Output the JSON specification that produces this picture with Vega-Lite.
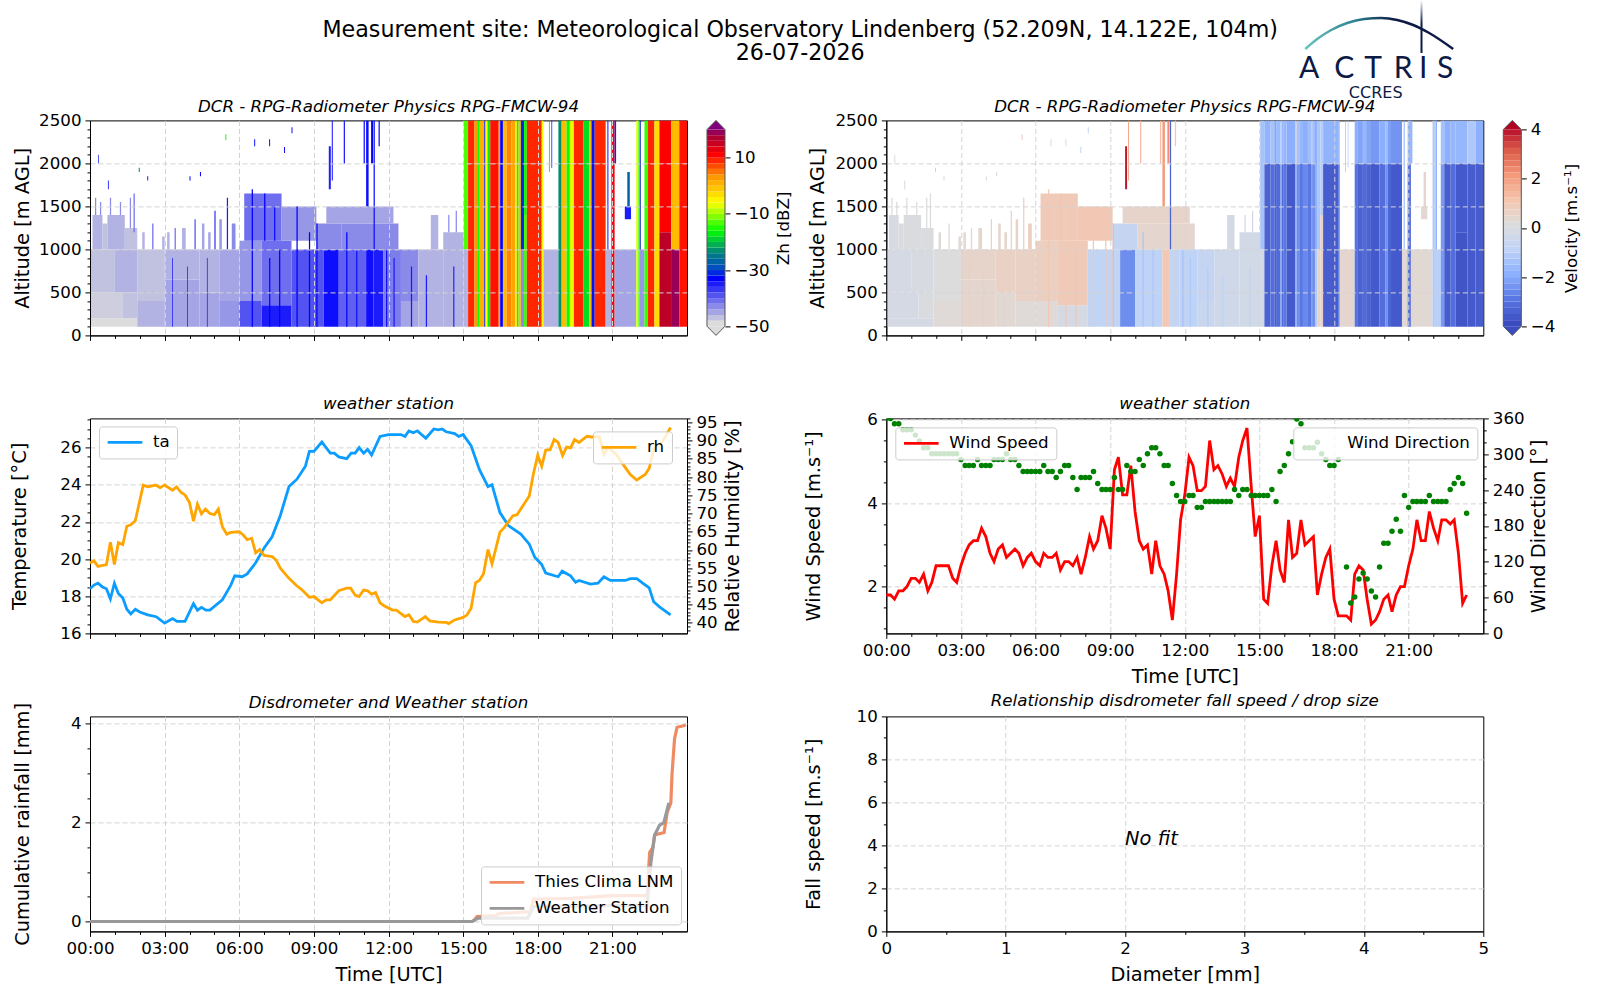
{
"$schema":"https://vega.github.io/schema/vega-lite/v6.json",
"padding":{"left":8,"top":0,"right":40,"bottom":40},
"background":"white",
"bounds":"flush",
"spacing":20.4,
"config":{
"font":"DejaVu Sans",
"view":{"stroke":"#000","strokeWidth":1},
"title":{"font":"DejaVu Sans","fontSize":16.67,"fontStyle":"italic","fontWeight":"normal","color":"#000","anchor":"middle"},
"axis":{"grid":true,"gridColor":"#d3d3d3","gridDash":[5,3],"gridWidth":1,"domainColor":"#000","tickColor":"#000","labelColor":"#000","titleColor":"#000","labelFont":"DejaVu Sans","titleFont":"DejaVu Sans","labelFontSize":16.67,"titleFontSize":19.4,"titleFontWeight":"normal","labelOverlap":false,"labelFlush":false,"labelBound":false,"labelPadding":4,"tickSize":5,"titlePadding":8},
"legend":{"title":null,"labelFont":"DejaVu Sans","labelFontSize":16.67,"labelColor":"#000","fillColor":"rgba(255,255,255,0.8)","strokeColor":"#cccccc","cornerRadius":3,"padding":7,"labelOffset":9,"symbolType":"stroke","symbolSize":1200,"symbolStrokeWidth":2.8,"rowPadding":8,"clipHeight":18}
},
"datasets":{
"rad":[
{"a":0,"b":1.9,"c":100,"d":200,"z":-50,"w":-0.3},{"a":0,"b":1.3,"c":200,"d":500,"z":-49,"w":-0.3},{"a":1.3,"b":1.9,"c":200,"d":500,"z":-48,"w":-0.1},{"a":0,"b":1,"c":500,"d":1000,"z":-48,"w":-0.3},{"a":1,"b":1.9,"c":500,"d":1000,"z":-47,"w":-0.2},{"a":0.1,"b":0.5,"c":1000,"d":1400,"z":-47,"w":-0.2},{"a":0.5,"b":0.7,"c":1000,"d":1300,"z":-48,"w":-0.1},{"a":0.7,"b":1.4,"c":1000,"d":1400,"z":-47,"w":-0.1},{"a":1.4,"b":1.9,"c":1000,"d":1250,"z":-48,"w":-0.1},
{"a":0.2,"b":0.25,"c":1400,"d":1600,"z":-44,"w":0},{"a":0.4,"b":0.45,"c":1400,"d":1550,"z":-44,"w":0.1},{"a":0.8,"b":0.85,"c":1400,"d":1600,"z":-44,"w":0},{"a":1.2,"b":1.25,"c":1400,"d":1550,"z":-44,"w":0.1},{"a":1.6,"b":1.65,"c":1250,"d":1600,"z":-44,"w":0},{"a":1.75,"b":1.8,"c":1200,"d":1650,"z":-42,"w":0.1},{"a":2.5,"b":2.55,"c":1000,"d":1300,"z":-42,"w":0.2},{"a":3.4,"b":3.45,"c":1000,"d":1250,"z":-42,"w":0.3},{"a":4.2,"b":4.25,"c":1000,"d":1350,"z":-40,"w":0.4},{"a":5,"b":5.05,"c":1000,"d":1450,"z":-38,"w":0.5},{"a":5.5,"b":5.55,"c":1000,"d":1600,"z":-36,"w":0.6},
{"a":2.1,"b":2.2,"c":1000,"d":1200,"z":-47,"w":0.1},{"a":2.9,"b":3,"c":1000,"d":1150,"z":-47,"w":0.2},{"a":3.1,"b":3.2,"c":1000,"d":1200,"z":-47,"w":0.2},{"a":3.7,"b":3.85,"c":1000,"d":1250,"z":-47,"w":0.3},{"a":4.5,"b":4.6,"c":1000,"d":1300,"z":-46,"w":0.4},{"a":4.75,"b":4.85,"c":1000,"d":1200,"z":-46,"w":0.4},{"a":5.2,"b":5.3,"c":1000,"d":1350,"z":-45,"w":0.5},{"a":5.7,"b":5.85,"c":1000,"d":1300,"z":-44,"w":0.6},
{"a":0.32,"b":0.36,"c":2000,"d":2100,"z":-40,"w":0.1},{"a":0.72,"b":0.76,"c":1700,"d":1800,"z":-38,"w":0.2},{"a":1.96,"b":2,"c":1900,"d":1950,"z":-25,"w":-1},{"a":2.3,"b":2.34,"c":1800,"d":1850,"z":-36,"w":0.3},{"a":4,"b":4.04,"c":1800,"d":1850,"z":-34,"w":0.3},{"a":4.42,"b":4.46,"c":1850,"d":1900,"z":-34,"w":0.3},{"a":5.44,"b":5.48,"c":2270,"d":2340,"z":-16,"w":0.6},{"a":6.6,"b":6.64,"c":2200,"d":2280,"z":-35,"w":0.3},{"a":7.2,"b":7.24,"c":2200,"d":2280,"z":-35,"w":0.3},{"a":7.8,"b":7.84,"c":2120,"d":2190,"z":-35,"w":-1},{"a":8.1,"b":8.14,"c":2350,"d":2420,"z":-35,"w":-1},
{"a":1.9,"b":3,"c":100,"d":400,"z":-47,"w":0.1},{"a":1.9,"b":3,"c":400,"d":1000,"z":-48,"w":0},{"a":3,"b":4.4,"c":100,"d":650,"z":-46,"w":0.3},{"a":3,"b":4.4,"c":650,"d":1000,"z":-47,"w":0.4},{"a":4.4,"b":5.2,"c":100,"d":500,"z":-46,"w":0.2},{"a":4.4,"b":5.2,"c":500,"d":1000,"z":-47,"w":0.5},{"a":5.2,"b":6,"c":100,"d":400,"z":-45,"w":0.1},{"a":5.2,"b":6,"c":400,"d":1000,"z":-46,"w":0.5},{"a":6,"b":6.9,"c":100,"d":400,"z":-40,"w":0.1},{"a":6,"b":6.9,"c":400,"d":1100,"z":-45,"w":0.6},{"a":6.2,"b":7.7,"c":1100,"d":1650,"z":-42,"w":0.8},{"a":6.9,"b":8.1,"c":100,"d":350,"z":-36,"w":-0.3},{"a":6.9,"b":8.1,"c":350,"d":1100,"z":-42,"w":0.8},{"a":7.7,"b":9.1,"c":1100,"d":1500,"z":-45,"w":0.9},{"a":8.1,"b":9.4,"c":100,"d":1000,"z":-40,"w":-0.9},{"a":9.4,"b":10,"c":100,"d":1000,"z":-35,"w":-2.6},{"a":10,"b":11.1,"c":100,"d":1000,"z":-41,"w":-1},{"a":11.1,"b":11.4,"c":100,"d":1000,"z":-35,"w":0.9},{"a":11.4,"b":11.8,"c":100,"d":1000,"z":-36,"w":-0.8},{"a":9.1,"b":10.1,"c":1000,"d":1300,"z":-44,"w":-0.8},{"a":10.1,"b":12.4,"c":1000,"d":1300,"z":-44,"w":0.3},{"a":9.5,"b":12.2,"c":1300,"d":1500,"z":-46,"w":0.4},{"a":11.8,"b":12.5,"c":100,"d":1000,"z":-43,"w":-1},{"a":12.5,"b":13.2,"c":100,"d":400,"z":-46,"w":-0.7},{"a":12.5,"b":13.2,"c":400,"d":1000,"z":-44,"w":-0.8},{"a":13.2,"b":14.2,"c":100,"d":1000,"z":-47,"w":-0.5},{"a":14.2,"b":15.03,"c":100,"d":1200,"z":-47,"w":-0.4},{"a":13.7,"b":14,"c":1000,"d":1400,"z":-47,"w":-0.3},{"a":14.4,"b":14.45,"c":1200,"d":1400,"z":-44,"w":-0.3},{"a":14.7,"b":14.75,"c":1200,"d":1450,"z":-44,"w":-0.3},
{"a":3.3,"b":3.33,"c":100,"d":900,"z":-36,"w":0.5},{"a":3.9,"b":3.93,"c":100,"d":800,"z":-36,"w":0.6},{"a":4.7,"b":4.73,"c":100,"d":900,"z":-36,"w":0.6},{"a":6.5,"b":6.55,"c":100,"d":1700,"z":-34,"w":0.9},{"a":7,"b":7.05,"c":1100,"d":1650,"z":-34,"w":1},{"a":7.2,"b":7.25,"c":100,"d":900,"z":-34,"w":0.9},{"a":7.4,"b":7.45,"c":1100,"d":1500,"z":-35,"w":1},{"a":7.6,"b":7.65,"c":100,"d":1000,"z":-34,"w":1},{"a":8.3,"b":8.35,"c":100,"d":1500,"z":-34,"w":1},{"a":8.8,"b":8.85,"c":100,"d":1200,"z":-34,"w":0.9},{"a":9.1,"b":9.15,"c":100,"d":1300,"z":-34,"w":1.3},{"a":10.3,"b":10.35,"c":100,"d":1200,"z":-34,"w":-1.4},{"a":10.7,"b":10.75,"c":100,"d":1000,"z":-35,"w":-1.4},{"a":11.9,"b":11.95,"c":100,"d":1000,"z":-35,"w":-1.5},{"a":12.2,"b":12.25,"c":100,"d":900,"z":-36,"w":-1.3},{"a":12.9,"b":12.95,"c":100,"d":800,"z":-36,"w":-1.2},{"a":13.5,"b":13.55,"c":100,"d":700,"z":-36,"w":-1},{"a":14.6,"b":14.65,"c":100,"d":800,"z":-37,"w":-0.9},
{"a":9.6,"b":9.68,"c":1700,"d":2200,"z":-36,"w":3.8},{"a":9.72,"b":9.76,"c":1800,"d":2500,"z":-35,"w":1.8},{"a":10.2,"b":10.25,"c":2000,"d":2500,"z":-36,"w":1.2},{"a":11,"b":11.05,"c":2000,"d":2500,"z":-35,"w":1.2},{"a":11.1,"b":11.2,"c":1500,"d":2500,"z":-35,"w":2},{"a":11.3,"b":11.38,"c":2000,"d":2500,"z":-34,"w":2.2},{"a":11.4,"b":11.45,"c":1000,"d":2500,"z":-35,"w":-3.5},{"a":11.6,"b":11.65,"c":2200,"d":2500,"z":-35,"w":1},
{"a":15.03,"b":15.2,"c":1000,"d":2500,"z":-14,"w":-1.5},{"a":15.03,"b":15.2,"c":100,"d":1000,"z":-47,"w":-0.4},
{"a":15.2,"b":15.45,"c":100,"d":2000,"z":8,"w":-3.5},{"a":15.2,"b":15.45,"c":2000,"d":2500,"z":8,"w":-1.9},
{"a":15.45,"b":15.6,"c":100,"d":2000,"z":2,"w":-3.2},{"a":15.45,"b":15.6,"c":2000,"d":2500,"z":2,"w":-1.5},
{"a":15.6,"b":15.67,"c":100,"d":2000,"z":-17,"w":-3.6},{"a":15.6,"b":15.67,"c":2000,"d":2500,"z":-17,"w":-2.2},
{"a":15.67,"b":15.85,"c":100,"d":2000,"z":0,"w":-3.3},{"a":15.67,"b":15.85,"c":2000,"d":2500,"z":0,"w":-1.7},
{"a":15.85,"b":15.9,"c":100,"d":2000,"z":-33,"w":-2.2},{"a":15.85,"b":15.9,"c":2000,"d":2500,"z":-33,"w":-1.2},
{"a":15.9,"b":15.98,"c":100,"d":2000,"z":-7,"w":-3.3},{"a":15.9,"b":15.98,"c":2000,"d":2500,"z":-7,"w":-1.8},
{"a":15.98,"b":16.09,"c":100,"d":2000,"z":-18,"w":-3},{"a":15.98,"b":16.09,"c":2000,"d":2500,"z":-18,"w":-1.8},
{"a":16.09,"b":16.43,"c":100,"d":2000,"z":9,"w":-3.7},{"a":16.09,"b":16.43,"c":2000,"d":2500,"z":9,"w":-2},
{"a":16.43,"b":16.49,"c":100,"d":2000,"z":1,"w":-2},{"a":16.43,"b":16.49,"c":2000,"d":2500,"z":1,"w":1},
{"a":16.49,"b":16.6,"c":100,"d":2000,"z":-34,"w":-2.6},{"a":16.49,"b":16.6,"c":2000,"d":2500,"z":-34,"w":-1.5},
{"a":16.6,"b":16.75,"c":100,"d":2000,"z":-1,"w":-3},{"a":16.6,"b":16.75,"c":2000,"d":2500,"z":-1,"w":-1.8},
{"a":16.75,"b":16.95,"c":100,"d":2000,"z":3,"w":-2.7},{"a":16.75,"b":16.95,"c":2000,"d":2500,"z":3,"w":-2},
{"a":16.95,"b":17.1,"c":100,"d":2000,"z":1,"w":-3},{"a":16.95,"b":17.1,"c":2000,"d":2500,"z":1,"w":-1.6},
{"a":17.1,"b":17.16,"c":100,"d":2000,"z":-5,"w":-2.4},{"a":17.1,"b":17.16,"c":2000,"d":2500,"z":-5,"w":-1.3},
{"a":17.16,"b":17.23,"c":100,"d":2000,"z":-17,"w":-2.9},{"a":17.16,"b":17.23,"c":2000,"d":2500,"z":-17,"w":-1.8},
{"a":17.23,"b":17.32,"c":1000,"d":2500,"z":-1,"w":-2},{"a":17.23,"b":17.32,"c":100,"d":1000,"z":-1,"w":-1.2},
{"a":17.32,"b":17.45,"c":1000,"d":2500,"z":-32,"w":-1.4},{"a":17.32,"b":17.45,"c":100,"d":1000,"z":-44,"w":0.3},
{"a":17.45,"b":17.56,"c":1400,"d":2500,"z":-17,"w":-1.2},{"a":17.45,"b":17.56,"c":100,"d":1400,"z":-15,"w":0.5},
{"a":17.56,"b":18.16,"c":100,"d":2000,"z":8,"w":-3.6},{"a":17.56,"b":18.16,"c":2000,"d":2500,"z":8,"w":-1.9},
{"a":18.16,"b":18.23,"c":100,"d":2000,"z":-7,"w":-2.8},{"a":18.16,"b":18.23,"c":2000,"d":2500,"z":-7,"w":-1.7},
{"a":18.45,"b":18.48,"c":1900,"d":2500,"z":-20,"w":-1.5},{"a":18.55,"b":18.58,"c":1950,"d":2500,"z":-33,"w":-1.2},{"a":18.23,"b":18.83,"c":100,"d":1000,"z":-47,"w":0.3},
{"a":18.83,"b":18.96,"c":100,"d":2000,"z":-24,"w":-3.1},{"a":18.83,"b":18.96,"c":2000,"d":2500,"z":-24,"w":-2},
{"a":18.96,"b":19.16,"c":100,"d":2000,"z":-1,"w":-3.5},{"a":18.96,"b":19.16,"c":2000,"d":2500,"z":-1,"w":-2.2},
{"a":19.16,"b":19.29,"c":100,"d":2000,"z":-17,"w":-3.3},{"a":19.16,"b":19.29,"c":2000,"d":2500,"z":-17,"w":-1.8},
{"a":19.29,"b":19.45,"c":100,"d":2000,"z":-8,"w":-3.5},{"a":19.29,"b":19.45,"c":2000,"d":2500,"z":-8,"w":-2.2},
{"a":19.45,"b":19.83,"c":100,"d":2000,"z":8,"w":-3.7},{"a":19.45,"b":19.83,"c":2000,"d":2500,"z":8,"w":-2.4},
{"a":19.83,"b":20.07,"c":100,"d":2000,"z":-19,"w":-3.2},{"a":19.83,"b":20.07,"c":2000,"d":2500,"z":-19,"w":-2},
{"a":20.07,"b":20.16,"c":100,"d":2000,"z":0,"w":-2.6},{"a":20.07,"b":20.16,"c":2000,"d":2500,"z":0,"w":-1.7},
{"a":20.16,"b":20.29,"c":100,"d":2000,"z":-33,"w":-3.4},{"a":20.16,"b":20.29,"c":2000,"d":2500,"z":-33,"w":-2.3},
{"a":20.29,"b":20.73,"c":100,"d":2000,"z":8,"w":-3.7},{"a":20.29,"b":20.73,"c":2000,"d":2500,"z":8,"w":-2.5},
{"a":20.73,"b":20.96,"c":100,"d":1000,"z":-47,"w":0.2},{"a":20.8,"b":20.84,"c":1000,"d":2500,"z":-35,"w":-2},
{"a":20.96,"b":21.09,"c":100,"d":2000,"z":10,"w":-3.2},{"a":20.96,"b":21.09,"c":2000,"d":2500,"z":10,"w":-2},
{"a":21.09,"b":21.15,"c":2000,"d":2500,"z":-36,"w":-1.8},{"a":21.09,"b":21.96,"c":100,"d":1000,"z":-46,"w":0.2},
{"a":21.5,"b":21.75,"c":1350,"d":1500,"z":-36,"w":0.2},{"a":21.6,"b":21.7,"c":1500,"d":1900,"z":-28,"w":0.3},
{"a":21.96,"b":22.05,"c":100,"d":2500,"z":-8,"w":-1.3},{"a":22.05,"b":22.09,"c":100,"d":2500,"z":-17,"w":-1.5},
{"a":22.09,"b":22.29,"c":100,"d":1000,"z":-45,"w":-1.1},{"a":22.1,"b":22.14,"c":1000,"d":2500,"z":-33,"w":-2},
{"a":22.29,"b":22.43,"c":100,"d":2000,"z":-15,"w":-2.4},{"a":22.29,"b":22.43,"c":2000,"d":2500,"z":-15,"w":-1.5},
{"a":22.43,"b":22.69,"c":100,"d":2000,"z":8,"w":-3.6},{"a":22.43,"b":22.69,"c":2000,"d":2500,"z":8,"w":-2},
{"a":22.69,"b":22.89,"c":100,"d":2000,"z":-4,"w":-3.2},{"a":22.69,"b":22.89,"c":2000,"d":2500,"z":-4,"w":-1.8},
{"a":22.89,"b":23.36,"c":1200,"d":2000,"z":10,"w":-3.7},{"a":22.89,"b":23.36,"c":100,"d":1200,"z":15,"w":-3.8},{"a":22.89,"b":23.36,"c":2000,"d":2500,"z":10,"w":-1.8},
{"a":23.36,"b":23.69,"c":1000,"d":2000,"z":-1,"w":-3.6},{"a":23.36,"b":23.69,"c":100,"d":1000,"z":18,"w":-3.7},{"a":23.36,"b":23.69,"c":2000,"d":2500,"z":-1,"w":-1.3},
{"a":23.69,"b":24,"c":100,"d":2000,"z":9,"w":-3.6},{"a":23.69,"b":24,"c":2000,"d":2500,"z":9,"w":-2}
],
"zbar":[{"v0":-50,"v1":-48},{"v0":-48,"v1":-46},{"v0":-46,"v1":-44},{"v0":-44,"v1":-42},{"v0":-42,"v1":-40},{"v0":-40,"v1":-38},{"v0":-38,"v1":-36},{"v0":-36,"v1":-34},{"v0":-34,"v1":-32},{"v0":-32,"v1":-30},{"v0":-30,"v1":-28},{"v0":-28,"v1":-26},{"v0":-26,"v1":-24},{"v0":-24,"v1":-22},{"v0":-22,"v1":-20},{"v0":-20,"v1":-18},{"v0":-18,"v1":-16},{"v0":-16,"v1":-14},{"v0":-14,"v1":-12},{"v0":-12,"v1":-10},{"v0":-10,"v1":-8},{"v0":-8,"v1":-6},{"v0":-6,"v1":-4},{"v0":-4,"v1":-2},{"v0":-2,"v1":0},{"v0":0,"v1":2},{"v0":2,"v1":4},{"v0":4,"v1":6},{"v0":6,"v1":8},{"v0":8,"v1":10},{"v0":10,"v1":12},{"v0":12,"v1":14},{"v0":14,"v1":16},{"v0":16,"v1":18},{"v0":18,"v1":20}],
"wbar":[{"v0":-4,"v1":-3.75},{"v0":-3.75,"v1":-3.5},{"v0":-3.5,"v1":-3.25},{"v0":-3.25,"v1":-3},{"v0":-3,"v1":-2.75},{"v0":-2.75,"v1":-2.5},{"v0":-2.5,"v1":-2.25},{"v0":-2.25,"v1":-2},{"v0":-2,"v1":-1.75},{"v0":-1.75,"v1":-1.5},{"v0":-1.5,"v1":-1.25},{"v0":-1.25,"v1":-1},{"v0":-1,"v1":-0.75},{"v0":-0.75,"v1":-0.5},{"v0":-0.5,"v1":-0.25},{"v0":-0.25,"v1":0},{"v0":0,"v1":0.25},{"v0":0.25,"v1":0.5},{"v0":0.5,"v1":0.75},{"v0":0.75,"v1":1},{"v0":1,"v1":1.25},{"v0":1.25,"v1":1.5},{"v0":1.5,"v1":1.75},{"v0":1.75,"v1":2},{"v0":2,"v1":2.25},{"v0":2.25,"v1":2.5},{"v0":2.5,"v1":2.75},{"v0":2.75,"v1":3},{"v0":3,"v1":3.25},{"v0":3.25,"v1":3.5},{"v0":3.5,"v1":3.75},{"v0":3.75,"v1":4}],
"zout":[{"o":0,"x":0,"y":-50},{"o":1,"x":0.5,"y":-53.27},{"o":2,"x":1,"y":-50},{"o":3,"x":1,"y":20},{"o":4,"x":0.5,"y":23.27},{"o":5,"x":0,"y":20},{"o":6,"x":0,"y":-50}],
"wout":[{"o":0,"x":0,"y":-4},{"o":1,"x":0.5,"y":-4.37},{"o":2,"x":1,"y":-4},{"o":3,"x":1,"y":4},{"o":4,"x":0.5,"y":4.37},{"o":5,"x":0,"y":4},{"o":6,"x":0,"y":-4}],
"ta":[{"h":0,"v":18.4},{"h":0.16,"v":18.6},{"h":0.32,"v":18.7},{"h":0.5,"v":18.5},{"h":0.66,"v":18.4},{"h":0.82,"v":17.85},{"h":0.98,"v":18.7},{"h":1.14,"v":18.15},{"h":1.32,"v":17.9},{"h":1.48,"v":17.3},{"h":1.64,"v":17.05},{"h":1.82,"v":17.3},{"h":2,"v":17.15},{"h":2.32,"v":17},{"h":2.66,"v":16.9},{"h":3,"v":16.55},{"h":3.32,"v":16.8},{"h":3.5,"v":16.65},{"h":3.82,"v":16.65},{"h":4.16,"v":17.6},{"h":4.32,"v":17.25},{"h":4.48,"v":17.4},{"h":4.66,"v":17.25},{"h":4.82,"v":17.25},{"h":5.32,"v":17.8},{"h":5.66,"v":18.6},{"h":5.82,"v":19.1},{"h":6.12,"v":19.05},{"h":6.32,"v":19.2},{"h":6.66,"v":19.8},{"h":7,"v":20.6},{"h":7.32,"v":21.2},{"h":7.64,"v":22.3},{"h":8,"v":23.9},{"h":8.32,"v":24.3},{"h":8.66,"v":25},{"h":8.82,"v":25.8},{"h":9,"v":25.8},{"h":9.32,"v":26.3},{"h":9.66,"v":25.7},{"h":9.82,"v":25.7},{"h":10,"v":25.5},{"h":10.32,"v":25.4},{"h":10.5,"v":25.7},{"h":10.66,"v":25.7},{"h":10.82,"v":26},{"h":11,"v":25.7},{"h":11.16,"v":25.9},{"h":11.32,"v":25.6},{"h":11.66,"v":26.6},{"h":12,"v":26.7},{"h":12.5,"v":26.7},{"h":12.66,"v":26.6},{"h":12.82,"v":26.9},{"h":13,"v":26.8},{"h":13.16,"v":26.9},{"h":13.5,"v":26.5},{"h":13.82,"v":27},{"h":14,"v":26.95},{"h":14.16,"v":27},{"h":14.32,"v":26.85},{"h":14.66,"v":26.75},{"h":14.82,"v":26.6},{"h":15,"v":26.7},{"h":15.32,"v":26.1},{"h":15.66,"v":24.8},{"h":16,"v":23.9},{"h":16.16,"v":24},{"h":16.48,"v":22.5},{"h":16.82,"v":21.8},{"h":17.32,"v":21.35},{"h":17.66,"v":20.8},{"h":17.88,"v":20.1},{"h":18.16,"v":19.7},{"h":18.32,"v":19.25},{"h":18.82,"v":19.05},{"h":18.98,"v":19.35},{"h":19.32,"v":19.1},{"h":19.52,"v":18.75},{"h":19.66,"v":18.85},{"h":20.12,"v":18.65},{"h":20.42,"v":18.7},{"h":20.66,"v":19.05},{"h":20.92,"v":18.85},{"h":21.52,"v":18.85},{"h":21.72,"v":18.95},{"h":21.98,"v":18.95},{"h":22.22,"v":18.7},{"h":22.48,"v":18.45},{"h":22.66,"v":17.7},{"h":22.92,"v":17.4},{"h":23.34,"v":17}],
"rh":[{"h":0,"v":56.4},{"h":0.16,"v":57},{"h":0.32,"v":55.5},{"h":0.66,"v":56},{"h":0.82,"v":62.1},{"h":0.98,"v":56},{"h":1.14,"v":62},{"h":1.32,"v":61.5},{"h":1.48,"v":66.5},{"h":1.64,"v":66.9},{"h":1.82,"v":68},{"h":2.14,"v":77.8},{"h":2.32,"v":77.3},{"h":2.64,"v":77.8},{"h":2.82,"v":77.1},{"h":3,"v":77.8},{"h":3.32,"v":76.4},{"h":3.48,"v":77.3},{"h":3.66,"v":75.8},{"h":3.82,"v":75.1},{"h":4,"v":73},{"h":4.16,"v":67.9},{"h":4.32,"v":72.6},{"h":4.48,"v":69.9},{"h":4.64,"v":71.2},{"h":4.82,"v":70},{"h":5,"v":69.7},{"h":5.16,"v":71.2},{"h":5.32,"v":66.4},{"h":5.5,"v":64.3},{"h":5.66,"v":64.8},{"h":6,"v":65},{"h":6.16,"v":64.1},{"h":6.32,"v":62.8},{"h":6.5,"v":63.2},{"h":6.66,"v":59.2},{"h":6.82,"v":60.1},{"h":7,"v":58.5},{"h":7.32,"v":58.2},{"h":7.48,"v":57.2},{"h":7.66,"v":54.9},{"h":8,"v":52.2},{"h":8.32,"v":50.1},{"h":8.5,"v":49.2},{"h":8.82,"v":47},{"h":9,"v":47.2},{"h":9.32,"v":45.5},{"h":9.5,"v":46.3},{"h":9.66,"v":46.3},{"h":10,"v":48.8},{"h":10.32,"v":49.5},{"h":10.48,"v":49.5},{"h":10.66,"v":47.6},{"h":10.82,"v":47.2},{"h":11,"v":49},{"h":11.16,"v":48.8},{"h":11.32,"v":47.9},{"h":11.48,"v":48.3},{"h":11.66,"v":45.5},{"h":11.82,"v":44.7},{"h":12.16,"v":43.5},{"h":12.32,"v":43.5},{"h":12.66,"v":41.7},{"h":12.82,"v":42.2},{"h":13,"v":40.4},{"h":13.16,"v":40.2},{"h":13.48,"v":41.7},{"h":13.66,"v":40.5},{"h":14,"v":40.2},{"h":14.32,"v":40.1},{"h":14.42,"v":39.8},{"h":14.66,"v":40.8},{"h":15,"v":41.5},{"h":15.16,"v":42.2},{"h":15.32,"v":44},{"h":15.5,"v":51},{"h":15.66,"v":51.7},{"h":15.82,"v":53.5},{"h":16,"v":60.1},{"h":16.16,"v":56.2},{"h":16.48,"v":64.9},{"h":16.66,"v":66.2},{"h":17,"v":69.4},{"h":17.16,"v":69.6},{"h":17.66,"v":74.8},{"h":17.82,"v":80.7},{"h":18,"v":86},{"h":18.16,"v":83},{"h":18.32,"v":87.4},{"h":18.5,"v":87.5},{"h":18.66,"v":90.3},{"h":18.82,"v":89.5},{"h":19,"v":85.9},{"h":19.16,"v":88.2},{"h":19.32,"v":88},{"h":19.48,"v":90.3},{"h":19.66,"v":89.5},{"h":19.98,"v":91.2},{"h":20.16,"v":91},{"h":20.48,"v":91.1},{"h":20.66,"v":86.2},{"h":20.82,"v":88.2},{"h":21.16,"v":86.2},{"h":21.48,"v":83},{"h":21.72,"v":80.7},{"h":21.98,"v":79.2},{"h":22.32,"v":80.7},{"h":22.48,"v":82.4},{"h":22.66,"v":87.5},{"h":23.02,"v":89.8},{"h":23.34,"v":93.6}],
"wind":[{"h":0,"s":1.8,"d":360},{"h":0.17,"s":1.8,"d":360},{"h":0.33,"s":1.7,"d":351},{"h":0.5,"s":1.9,"d":351},{"h":0.67,"s":1.9,"d":341},{"h":0.83,"s":2,"d":341},{"h":1,"s":2.2,"d":341},{"h":1.17,"s":2.2,"d":332},{"h":1.33,"s":2.1,"d":322},{"h":1.5,"s":2.3,"d":311},{"h":1.67,"s":1.9,"d":311},{"h":1.83,"s":2.1,"d":301},{"h":2,"s":2.5,"d":301},{"h":2.17,"s":2.5,"d":301},{"h":2.33,"s":2.5,"d":301},{"h":2.5,"s":2.5,"d":301},{"h":2.67,"s":2.2,"d":301},{"h":2.83,"s":2.1,"d":301},{"h":3,"s":2.5,"d":291},{"h":3.17,"s":2.8,"d":281},{"h":3.33,"s":3,"d":281},{"h":3.5,"s":3.1,"d":281},{"h":3.67,"s":3.1,"d":291},{"h":3.83,"s":3.4,"d":281},{"h":4,"s":3.2,"d":281},{"h":4.17,"s":2.8,"d":281},{"h":4.33,"s":2.6,"d":291},{"h":4.5,"s":2.9,"d":291},{"h":4.67,"s":3,"d":291},{"h":4.83,"s":2.7,"d":301},{"h":5,"s":2.8,"d":291},{"h":5.17,"s":2.9,"d":291},{"h":5.33,"s":2.8,"d":281},{"h":5.5,"s":2.5,"d":271},{"h":5.67,"s":2.7,"d":271},{"h":5.83,"s":2.8,"d":271},{"h":6,"s":2.6,"d":271},{"h":6.17,"s":2.5,"d":271},{"h":6.33,"s":2.8,"d":281},{"h":6.5,"s":2.7,"d":271},{"h":6.67,"s":2.7,"d":271},{"h":6.83,"s":2.8,"d":261},{"h":7,"s":2.4,"d":271},{"h":7.17,"s":2.6,"d":281},{"h":7.33,"s":2.6,"d":281},{"h":7.5,"s":2.5,"d":261},{"h":7.67,"s":2.7,"d":241},{"h":7.83,"s":2.3,"d":261},{"h":8,"s":2.7,"d":261},{"h":8.17,"s":3.2,"d":261},{"h":8.33,"s":2.9,"d":271},{"h":8.5,"s":3.1,"d":251},{"h":8.67,"s":3.7,"d":241},{"h":8.83,"s":3.4,"d":241},{"h":9,"s":2.9,"d":241},{"h":9.17,"s":4.8,"d":261},{"h":9.33,"s":5.1,"d":241},{"h":9.5,"s":4.2,"d":241},{"h":9.67,"s":4.2,"d":281},{"h":9.83,"s":4.9,"d":271},{"h":10,"s":3.8,"d":271},{"h":10.17,"s":3.1,"d":291},{"h":10.33,"s":2.9,"d":281},{"h":10.5,"s":3,"d":301},{"h":10.67,"s":2.3,"d":311},{"h":10.83,"s":3.1,"d":311},{"h":11,"s":2.5,"d":301},{"h":11.17,"s":2.3,"d":281},{"h":11.33,"s":1.9,"d":281},{"h":11.5,"s":1.2,"d":251},{"h":11.67,"s":2.3,"d":231},{"h":11.83,"s":3.6,"d":221},{"h":12,"s":4.2,"d":221},{"h":12.17,"s":5.1,"d":231},{"h":12.33,"s":4.9,"d":231},{"h":12.5,"s":4.3,"d":211},{"h":12.67,"s":4.3,"d":211},{"h":12.83,"s":4.4,"d":221},{"h":13,"s":5.5,"d":221},{"h":13.17,"s":4.8,"d":221},{"h":13.33,"s":4.9,"d":221},{"h":13.5,"s":4.7,"d":221},{"h":13.67,"s":4.4,"d":221},{"h":13.83,"s":4.6,"d":221},{"h":14,"s":4.4,"d":241},{"h":14.17,"s":5.1,"d":231},{"h":14.33,"s":5.5,"d":241},{"h":14.5,"s":5.8,"d":241},{"h":14.67,"s":4.4,"d":231},{"h":14.83,"s":3.2,"d":231},{"h":15,"s":3.7,"d":231},{"h":15.17,"s":1.7,"d":231},{"h":15.33,"s":1.6,"d":231},{"h":15.5,"s":2.5,"d":241},{"h":15.67,"s":3.1,"d":221},{"h":15.83,"s":2.4,"d":271},{"h":16,"s":2.1,"d":281},{"h":16.17,"s":3.6,"d":301},{"h":16.33,"s":2.7,"d":321},{"h":16.5,"s":2.8,"d":359},{"h":16.67,"s":3.6,"d":351},{"h":16.83,"s":3,"d":311},{"h":17,"s":3.1,"d":311},{"h":17.17,"s":3.2,"d":311},{"h":17.33,"s":1.8,"d":320},{"h":17.5,"s":2.3,"d":301},{"h":17.67,"s":2.7,"d":291},{"h":17.83,"s":2.9,"d":281},{"h":18,"s":1.7,"d":281},{"h":18.17,"s":1.3,"d":291},{"h":18.33,"s":1.3},{"h":18.5,"s":1.3,"d":111},{"h":18.67,"s":1.2,"d":51},{"h":18.83,"s":2.3,"d":61},{"h":19,"s":2.5,"d":91},{"h":19.17,"s":2.4,"d":101},{"h":19.33,"s":1.7,"d":91},{"h":19.5,"s":1.1,"d":71},{"h":19.67,"s":1.2,"d":61},{"h":19.83,"s":1.4,"d":111},{"h":20,"s":1.7,"d":151},{"h":20.17,"s":1.8,"d":151},{"h":20.33,"s":1.4,"d":171},{"h":20.5,"s":1.8,"d":191},{"h":20.67,"s":2,"d":171},{"h":20.83,"s":2,"d":231},{"h":21,"s":2.5,"d":211},{"h":21.17,"s":2.9,"d":221},{"h":21.33,"s":3.6,"d":221},{"h":21.5,"s":3.1,"d":221},{"h":21.67,"s":3.1,"d":221},{"h":21.83,"s":3.8,"d":231},{"h":22,"s":3.4,"d":221},{"h":22.17,"s":3.1,"d":221},{"h":22.33,"s":3.6,"d":221},{"h":22.5,"s":3.6,"d":221},{"h":22.67,"s":3.5,"d":241},{"h":22.83,"s":3.6,"d":251},{"h":23,"s":2.8,"d":261},{"h":23.17,"s":1.6,"d":251},{"h":23.33,"s":1.8,"d":201}],
"lnm":[{"h":0,"r":0},{"h":15.36,"r":0},{"h":15.43,"r":0.02},{"h":15.56,"r":0.1},{"h":16.3,"r":0.12},{"h":16.43,"r":0.16},{"h":17.7,"r":0.2},{"h":17.83,"r":0.45},{"h":19.36,"r":0.47},{"h":20.83,"r":0.52},{"h":22.4,"r":0.53},{"h":22.45,"r":1},{"h":22.5,"r":1.4},{"h":22.63,"r":1.5},{"h":22.7,"r":1.75},{"h":23.08,"r":1.8},{"h":23.2,"r":2.2},{"h":23.35,"r":2.4},{"h":23.4,"r":3},{"h":23.5,"r":3.7},{"h":23.6,"r":3.93},{"h":23.95,"r":3.97}],
"ws":[{"h":0,"r":0},{"h":15.36,"r":0},{"h":15.6,"r":0.07},{"h":17.6,"r":0.07},{"h":17.83,"r":0.3},{"h":22.4,"r":0.33},{"h":22.55,"r":1.2},{"h":22.7,"r":1.75},{"h":22.9,"r":1.95},{"h":23.07,"r":2},{"h":23.27,"r":2.4}],
"arc":[{"x":1306,"y":49},{"x":1318,"y":39},{"x":1332,"y":30},{"x":1348,"y":23},{"x":1365,"y":19},{"x":1382,"y":18},{"x":1398,"y":20},{"x":1414,"y":25},{"x":1430,"y":33},{"x":1454,"y":49}],
"letters":[{"x":1310,"t":"A"},{"x":1345,"t":"C"},{"x":1374,"t":"T"},{"x":1404,"t":"R"},{"x":1424,"t":"I"},{"x":1446,"t":"S"}],
"head":[{"x":801,"y":30,"t":"Measurement site: Meteorological Observatory Lindenberg (52.209N, 14.122E, 104m)"},{"x":801,"y":53,"t":"26-07-2026"}]
},
"vconcat":[
{"width":1393,"height":100,"view":{"stroke":null},
"layer":[
{"data":{"name":"head"},"mark":{"type":"text","fontSize":22.2,"font":"DejaVu Sans","baseline":"middle","align":"center","color":"#000"},"encoding":{"x":{"field":"x","type":"quantitative","scale":{"domain":[90.8,1483.8],"nice":false,"zero":false},"axis":null},"y":{"field":"y","type":"quantitative","scale":{"domain":[100,0],"nice":false,"zero":false},"axis":null},"text":{"field":"t"}}},
{"data":{"name":"arc"},"mark":{"type":"line","strokeWidth":2.5,"interpolate":"monotone","stroke":{"gradient":"linear","x1":0,"y1":0,"x2":1,"y2":0,"stops":[{"offset":0,"color":"#6cc4c0"},{"offset":0.35,"color":"#2a7f90"},{"offset":0.6,"color":"#0c1a45"},{"offset":1,"color":"#0c1a45"}]}},"encoding":{"x":{"field":"x","type":"quantitative"},"y":{"field":"y","type":"quantitative"}}},
{"data":{"values":[{"x0":1421.3,"x1":1423.3,"y0":0,"y1":53}]},"mark":{"type":"rect","fill":{"gradient":"linear","x1":0,"y1":0,"x2":0,"y2":1,"stops":[{"offset":0,"color":"#ffffff"},{"offset":0.45,"color":"#0c1a45"},{"offset":1,"color":"#0c1a45"}]}},"encoding":{"x":{"field":"x0","type":"quantitative"},"x2":{"field":"x1"},"y":{"field":"y0","type":"quantitative"},"y2":{"field":"y1"}}},
{"data":{"name":"letters"},"mark":{"type":"text","font":"Lato","fontSize":30,"baseline":"middle","align":"center","color":"#0c1a45"},"encoding":{"x":{"field":"x","type":"quantitative"},"y":{"datum":69,"type":"quantitative"},"text":{"field":"t"}}},
{"data":{"values":[{"x":1376.5,"t":"CCRES"}]},"mark":{"type":"text","fontSize":16,"font":"DejaVu Sans","baseline":"middle","align":"center","color":"#0c1a45"},"encoding":{"x":{"field":"x","type":"quantitative"},"y":{"datum":93,"type":"quantitative"},"text":{"field":"t"}}}
]},
{"columns":2,"bounds":"flush","spacing":{"row":83,"column":199.3},
"concat":[
{"width":597,"height":215,"title":{"text":"DCR - RPG-Radiometer Physics RPG-FMCW-94","offset":-3},"resolve":{"scale":{"x":"independent","y":"independent"}},
"layer":[
{"data":{"name":"rad"},"mark":{"type":"rect","clip":true},"encoding":{
"x":{"field":"a","type":"quantitative","scale":{"domain":[0,24],"nice":false,"zero":false},"axis":{"title":null,"labels":false,"zindex":1,"values":[0,1,2,3,4,5,6,7,8,9,10,11,12,13,14,15,16,17,18,19,20,21,22,23],"tickSize":{"condition":{"test":"datum.value%3!=0","value":3},"value":5},"gridOpacity":{"condition":{"test":"datum.value%3!=0||datum.value==0","value":0},"value":1}}},"x2":{"field":"b"},
"y":{"field":"c","type":"quantitative","scale":{"domain":[0,2500],"nice":false},"axis":{"title":"Altitude [m AGL]","titleX":-68,"titleBaseline":"middle","zindex":1,"values":[0,100,200,300,400,500,600,700,800,900,1000,1100,1200,1300,1400,1500,1600,1700,1800,1900,2000,2100,2200,2300,2400,2500],"labelExpr":"datum.value%500==0?datum.value:''","tickSize":{"condition":{"test":"datum.value%500!=0","value":3},"value":5},"gridOpacity":{"condition":{"test":"datum.value%500!=0||datum.value==0||datum.value==2500","value":0},"value":1}}},"y2":{"field":"d"},
"color":{"field":"z","type":"quantitative","legend":null,"scale":{"domain":[-50,-34,-30,-25,-17,-7,2,10,16,20],"range":["#dcdcdc","#0000ff","#0050c0","#008080","#00ff00","#ffff00","#ff9900","#ff0000","#b00030","#800080"],"interpolate":"rgb","clamp":true}}}},
{"layer":[
{"data":{"name":"zbar"},"mark":{"type":"rect"},"encoding":{
"x":{"datum":0,"type":"quantitative","scale":{"domain":[-34.278,-1.111],"nice":false,"zero":false},"axis":null},"x2":{"datum":1},
"y":{"field":"v0","type":"quantitative","scale":{"domain":[-53.27,23.27],"nice":false,"zero":false},"axis":{"orient":"right","offset":38,"grid":false,"domain":false,"title":"Zh [dBZ]","titleFontSize":16.67,"titleAngle":270,"titleBaseline":"middle","titleX":58,"values":[-50,-30,-10,10]}},"y2":{"field":"v1"},
"color":{"field":"v0","type":"quantitative","legend":null,"scale":{"domain":[-50,-34,-30,-25,-17,-7,2,10,16,20],"range":["#dcdcdc","#0000ff","#0050c0","#008080","#00ff00","#ffff00","#ff9900","#ff0000","#b00030","#800080"],"interpolate":"rgb","clamp":true}}}},
{"data":{"values":[{"x":0,"y":20,"t":20},{"x":0.5,"y":20,"t":23.27},{"x":1,"y":20,"t":20}]},"mark":{"type":"area","color":"#800080"},"encoding":{"x":{"field":"x","type":"quantitative"},"y":{"field":"y","type":"quantitative"},"y2":{"field":"t"}}},
{"data":{"values":[{"x":0,"y":-50,"t":-50},{"x":0.5,"y":-50,"t":-53.27},{"x":1,"y":-50,"t":-50}]},"mark":{"type":"area","color":"#dcdcdc"},"encoding":{"x":{"field":"x","type":"quantitative"},"y":{"field":"y","type":"quantitative"},"y2":{"field":"t"}}},
{"data":{"name":"zout"},"mark":{"type":"line","color":"#555","strokeWidth":1},"encoding":{"x":{"field":"x","type":"quantitative"},"y":{"field":"y","type":"quantitative"},"order":{"field":"o"}}}
]}
]},
{"width":597,"height":215,"title":{"text":"DCR - RPG-Radiometer Physics RPG-FMCW-94","offset":-3},"resolve":{"scale":{"x":"independent","y":"independent"}},
"layer":[
{"data":{"name":"rad"},"mark":{"type":"rect","clip":true},"encoding":{
"x":{"field":"a","type":"quantitative","scale":{"domain":[0,24],"nice":false,"zero":false},"axis":{"title":null,"labels":false,"zindex":1,"values":[0,1,2,3,4,5,6,7,8,9,10,11,12,13,14,15,16,17,18,19,20,21,22,23],"tickSize":{"condition":{"test":"datum.value%3!=0","value":3},"value":5},"gridOpacity":{"condition":{"test":"datum.value%3!=0||datum.value==0","value":0},"value":1}}},"x2":{"field":"b"},
"y":{"field":"c","type":"quantitative","scale":{"domain":[0,2500],"nice":false},"axis":{"title":"Altitude [m AGL]","titleX":-69,"titleBaseline":"middle","zindex":1,"values":[0,100,200,300,400,500,600,700,800,900,1000,1100,1200,1300,1400,1500,1600,1700,1800,1900,2000,2100,2200,2300,2400,2500],"labelExpr":"datum.value%500==0?datum.value:''","tickSize":{"condition":{"test":"datum.value%500!=0","value":3},"value":5},"gridOpacity":{"condition":{"test":"datum.value%500!=0||datum.value==0||datum.value==2500","value":0},"value":1}}},"y2":{"field":"d"},
"color":{"field":"w","type":"quantitative","legend":null,"scale":{"domain":[-4,-3,-2,-1,0,1,2,3,4],"range":["#3b4cc0","#5977e3","#8db0fe","#bfd3f6","#dddcdc","#f4c6af","#f49a7b","#dc5d4a","#b40426"],"interpolate":"rgb","clamp":true}}}},
{"layer":[
{"data":{"name":"wbar"},"mark":{"type":"rect"},"encoding":{
"x":{"datum":0,"type":"quantitative","scale":{"domain":[-34.278,-1.111],"nice":false,"zero":false},"axis":null},"x2":{"datum":1},
"y":{"field":"v0","type":"quantitative","scale":{"domain":[-4.37,4.37],"nice":false,"zero":false},"axis":{"orient":"right","offset":38,"grid":false,"domain":false,"title":"Velocity [m.s⁻¹]","titleFontSize":16.67,"titleAngle":270,"titleBaseline":"middle","titleX":50,"values":[-4,-2,0,2,4]}},"y2":{"field":"v1"},
"color":{"field":"v0","type":"quantitative","legend":null,"scale":{"domain":[-4,-3,-2,-1,0,1,2,3,4],"range":["#3b4cc0","#5977e3","#8db0fe","#bfd3f6","#dddcdc","#f4c6af","#f49a7b","#dc5d4a","#b40426"],"interpolate":"rgb","clamp":true}}}},
{"data":{"values":[{"x":0,"y":4,"t":4},{"x":0.5,"y":4,"t":4.37},{"x":1,"y":4,"t":4}]},"mark":{"type":"area","color":"#b40426"},"encoding":{"x":{"field":"x","type":"quantitative"},"y":{"field":"y","type":"quantitative"},"y2":{"field":"t"}}},
{"data":{"values":[{"x":0,"y":-4,"t":-4},{"x":0.5,"y":-4,"t":-4.37},{"x":1,"y":-4,"t":-4}]},"mark":{"type":"area","color":"#3b4cc0"},"encoding":{"x":{"field":"x","type":"quantitative"},"y":{"field":"y","type":"quantitative"},"y2":{"field":"t"}}},
{"data":{"name":"wout"},"mark":{"type":"line","color":"#555","strokeWidth":1},"encoding":{"x":{"field":"x","type":"quantitative"},"y":{"field":"y","type":"quantitative"},"order":{"field":"o"}}}
]}
]},
{"width":597,"height":215,"title":{"text":"weather station","offset":-2},"resolve":{"scale":{"y":"independent","color":"independent"}},
"encoding":{"x":{"field":"h","type":"quantitative","scale":{"domain":[0,24],"nice":false,"zero":false},"axis":{"title":null,"labels":false,"values":[0,1,2,3,4,5,6,7,8,9,10,11,12,13,14,15,16,17,18,19,20,21,22,23],"tickSize":{"condition":{"test":"datum.value%3!=0","value":3},"value":5},"gridOpacity":{"condition":{"test":"datum.value%3!=0||datum.value==0","value":0},"value":1}}}},
"layer":[
{"data":{"name":"ta"},"mark":{"type":"line","strokeWidth":2.8},"encoding":{
"y":{"field":"v","type":"quantitative","scale":{"domain":[16,27.57],"nice":false,"zero":false},"axis":{"title":"Temperature [°C]","titleX":-71,"titleBaseline":"middle","values":[16,16.5,17,17.5,18,18.5,19,19.5,20,20.5,21,21.5,22,22.5,23,23.5,24,24.5,25,25.5,26,26.5,27,27.5],"labelExpr":"datum.value%2==0?datum.value:''","tickSize":{"condition":{"test":"datum.value%2!=0","value":3},"value":5},"gridOpacity":{"condition":{"test":"datum.value%2!=0||datum.value==16","value":0},"value":1}}},
"color":{"datum":"ta","scale":{"range":["#0a9dff"]},"legend":{"orient":"none","legendX":9,"legendY":8}}}},
{"data":{"name":"rh"},"mark":{"type":"line","strokeWidth":2.8},"encoding":{
"y":{"field":"v","type":"quantitative","scale":{"domain":[37.1,96.1],"nice":false,"zero":false},"axis":{"orient":"right","grid":false,"title":"Relative Humidity [%]","titleAngle":270,"titleBaseline":"middle","titleX":45,"values":[38,39,40,41,42,43,44,45,46,47,48,49,50,51,52,53,54,55,56,57,58,59,60,61,62,63,64,65,66,67,68,69,70,71,72,73,74,75,76,77,78,79,80,81,82,83,84,85,86,87,88,89,90,91,92,93,94,95,96],"labelExpr":"datum.value%5==0?datum.value:''","tickSize":{"condition":{"test":"datum.value%5!=0","value":3},"value":5}}},
"color":{"datum":"rh","scale":{"range":["#ffa500"]},"legend":{"orient":"none","legendX":503,"legendY":13}}}}
]},
{"width":597,"height":215,"title":{"text":"weather station","offset":-2},"resolve":{"scale":{"y":"independent","color":"independent"}},
"encoding":{"x":{"field":"h","type":"quantitative","scale":{"domain":[0,24],"nice":false,"zero":false},"axis":{"title":"Time [UTC]","values":[0,1,2,3,4,5,6,7,8,9,10,11,12,13,14,15,16,17,18,19,20,21,22,23],"labelExpr":"datum.value%3==0?(datum.value<10?'0':'')+datum.value+':00':''","tickSize":{"condition":{"test":"datum.value%3!=0","value":3},"value":5},"gridOpacity":{"condition":{"test":"datum.value%3!=0||datum.value==0","value":0},"value":1}}}},
"layer":[
{"data":{"name":"wind"},"mark":{"type":"line","strokeWidth":2.8},"encoding":{
"y":{"field":"s","type":"quantitative","scale":{"domain":[0.88,6.03],"nice":false,"zero":false},"axis":{"title":"Wind Speed [m.s⁻¹]","titleX":-73,"titleBaseline":"middle","values":[1,1.5,2,2.5,3,3.5,4,4.5,5,5.5,6],"labelExpr":"datum.value%2==0?datum.value:''","tickSize":{"condition":{"test":"datum.value%2!=0","value":3},"value":5},"gridOpacity":{"condition":{"test":"datum.value%2!=0","value":0},"value":1}}},
"color":{"datum":"Wind Speed","scale":{"range":["#ff0000"]},"legend":{"orient":"none","legendX":9,"legendY":9}}}},
{"data":{"name":"wind"},"transform":[{"filter":"isValid(datum.d)"}],"mark":{"type":"point","filled":true,"size":30,"opacity":1,"clip":true},"encoding":{
"y":{"field":"d","type":"quantitative","scale":{"domain":[0,360],"nice":false,"zero":false},"axis":{"orient":"right","grid":false,"title":"Wind Direction [°]","titleAngle":270,"titleBaseline":"middle","titleX":55,"values":[0,20,40,60,80,100,120,140,160,180,200,220,240,260,280,300,320,340,360],"labelExpr":"datum.value%60==0?datum.value:''","tickSize":{"condition":{"test":"datum.value%60!=0","value":3},"value":5}}},
"color":{"datum":"Wind Direction","scale":{"range":["#008000"]},"legend":{"orient":"none","legendX":407,"legendY":9,"symbolOpacity":0,"symbolType":"circle"}}}}
]},
{"width":597,"height":215,"title":{"text":"Disdrometer and Weather station","offset":-9},
"encoding":{"x":{"field":"h","type":"quantitative","scale":{"domain":[0,24],"nice":false,"zero":false},"axis":{"title":"Time [UTC]","values":[0,1,2,3,4,5,6,7,8,9,10,11,12,13,14,15,16,17,18,19,20,21,22,23],"labelExpr":"datum.value%3==0?(datum.value<10?'0':'')+datum.value+':00':''","tickSize":{"condition":{"test":"datum.value%3!=0","value":3},"value":5},"gridOpacity":{"condition":{"test":"datum.value%3!=0||datum.value==0","value":0},"value":1}}},
"y":{"field":"r","type":"quantitative","scale":{"domain":[-0.2,4.15],"nice":false,"zero":false},"axis":{"title":"Cumulative rainfall [mm]","titleX":-68,"titleBaseline":"middle","values":[0,0.5,1,1.5,2,2.5,3,3.5,4],"labelExpr":"datum.value%2==0?datum.value:''","tickSize":{"condition":{"test":"datum.value%2!=0","value":3},"value":5},"gridOpacity":{"condition":{"test":"datum.value%2!=0","value":0},"value":1}}}},
"layer":[
{"data":{"name":"lnm"},"mark":{"type":"line","strokeWidth":3.2},"encoding":{
"color":{"datum":"Thies Clima LNM","scale":{"domain":["Thies Clima LNM","Weather Station"],"range":["#ef8a62","#999999"]},"legend":{"orient":"none","legendX":391,"legendY":150}}}},
{"data":{"name":"ws"},"mark":{"type":"line","strokeWidth":3.2},"encoding":{
"color":{"datum":"Weather Station"}}}
]},
{"width":597,"height":215,"title":{"text":"Relationship disdrometer fall speed / drop size","offset":-1},
"data":{"values":[{"x":2,"y":4,"t":"No fit"}]},
"mark":{"type":"text","align":"left","baseline":"alphabetic","fontSize":19.4,"fontStyle":"italic","font":"DejaVu Sans","color":"#000"},
"encoding":{
"x":{"field":"x","type":"quantitative","scale":{"domain":[0,5],"nice":false,"zero":false},"axis":{"title":"Diameter [mm]","values":[0,0.5,1,1.5,2,2.5,3,3.5,4,4.5,5],"labelExpr":"datum.value%1==0?datum.value:''","tickSize":{"condition":{"test":"datum.value%1!=0","value":3},"value":5},"gridOpacity":{"condition":{"test":"datum.value%1!=0||datum.value==0||datum.value==5","value":0},"value":1}}},
"y":{"field":"y","type":"quantitative","scale":{"domain":[0,10],"nice":false},"axis":{"title":"Fall speed [m.s⁻¹]","titleX":-73,"titleBaseline":"middle","values":[0,1,2,3,4,5,6,7,8,9,10],"labelExpr":"datum.value%2==0?datum.value:''","tickSize":{"condition":{"test":"datum.value%2!=0","value":3},"value":5},"gridOpacity":{"condition":{"test":"datum.value%2!=0||datum.value==0||datum.value==10","value":0},"value":1}}},
"text":{"field":"t"}}}
]}
]
}
